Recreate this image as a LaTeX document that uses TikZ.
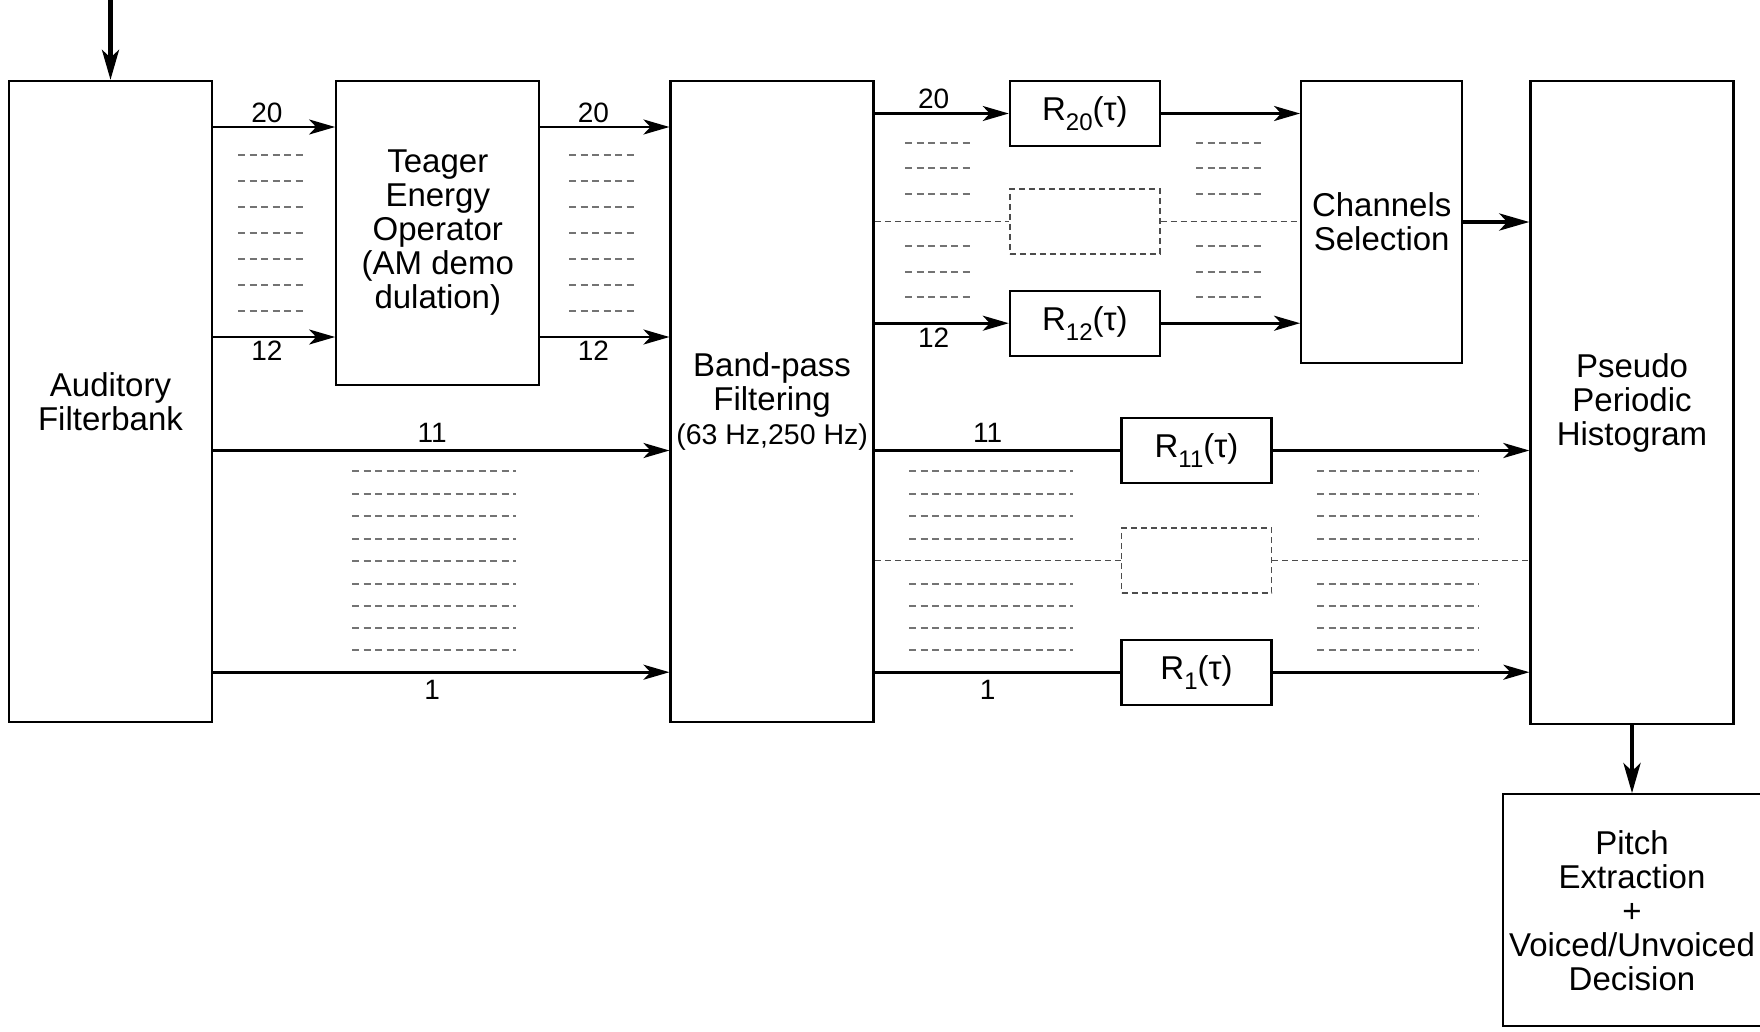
\documentclass[tikz,border=0pt]{standalone}
\usepackage{fontspec}
\setmainfont{Liberation Sans}
\usetikzlibrary{positioning,arrows.meta}

\newcommand\fmain{\fontsize{33}{34}\selectfont}
\newcommand\fnum{\fontsize{28}{30}\selectfont}
\newcommand\fsub{\fontsize{28.5}{33}\selectfont}
\newcommand\chsub[1]{\raisebox{-10pt}{\fontsize{24}{24}\selectfont#1}}
\newcommand\Rtau[1]{R\chsub{#1}(τ)}

\begin{document}
\begin{tikzpicture}[x=1pt, y=-1pt,
  font=\fmain,
  blk/.style={draw, line width=2.3pt, inner sep=0pt, align=center},
  rblk/.style={blk, minimum width=150pt, minimum height=65pt},
  ghost/.style={draw=black!70, line width=1.4pt, dash pattern=on 6pt off 4pt},
  sig/.style={line width=2.8pt, -{Stealth[length=26pt,width=15pt,inset=7pt]}},
  wire/.style={line width=2.8pt},
  bus/.style={line width=4.5pt, -{Stealth[length=30pt,width=17pt,inset=8pt]}},
  dots/.style={draw=black!55, line width=1.4pt, dash pattern=on 7pt off 4.5pt},
  gdash/.style={draw=black!70, line width=1.4pt, dash pattern=on 6pt off 4pt},
  num/.style={font=\fnum, inner sep=3pt},
  farnum/.style={font=\fnum, inner sep=7pt}
]
\useasboundingbox (0,0) rectangle (1760,1031);

% main blocks
\node[blk, minimum width=203pt, minimum height=641pt] (af) at (110.5,401.5) {Auditory\\Filterbank};
\node[blk, minimum width=203pt, minimum height=304pt, below right=0pt and 122pt of af.north east] (teo)
  {Teager\\Energy\\Operator\\(AM demo\\dulation)};
\node[blk, minimum width=203pt, minimum height=641pt, below right=0pt and 129pt of teo.north east] (bpf)
  {Band-pass\\Filtering\\{\fsub (63 Hz,250 Hz)}};

% autocorrelation blocks, channels 20..12
\node[rblk, below right=0pt and 134pt of bpf.north east] (r20) {\Rtau{20}};
\node[rblk, ghost, below=41pt of r20] (gA) {};
\node[rblk, below=35pt of gA] (r12) {\Rtau{12}};
\node[blk, minimum width=161pt, minimum height=282pt, below right=0pt and 139pt of r20.north east] (chs)
  {Channels\\Selection};
\node[blk, minimum width=203pt, minimum height=643pt, below right=0pt and 66pt of chs.north east] (pph)
  {Pseudo\\Periodic\\Histogram};

% channels 11..1
\node[rblk] (r11) at (1196.5,450.5) {\Rtau{11}};
\node[rblk, ghost, below=43pt of r11] (gB) {};
\node[rblk, below=45pt of gB] (r1) {\Rtau{1}};
\node[blk, minimum width=258pt, minimum height=232pt, below=68pt of pph] (pitch)
  {Pitch\\Extraction\\+\\Voiced/Unvoiced\\Decision};

% input
\coordinate[above=81pt of af.north] (src);
\draw[bus] (src) -- (af.north);

% filterbank outputs
\coordinate (c20) at (0,127);
\coordinate (c12) at (0,337);
\draw[sig] (af.east |- c20) -- node[num, above, pos=0.44]{20} (teo.west |- c20);
\draw[sig] (af.east |- c12) -- node[num, below, pos=0.44]{12} (teo.west |- c12);
\draw[sig] (teo.east |- c20) -- node[num, above, pos=0.41]{20} (bpf.west |- c20);
\draw[sig] (teo.east |- c12) -- node[num, below, pos=0.41]{12} (bpf.west |- c12);
\draw[sig] (af.east |- r11) -- node[farnum, above, pos=0.48]{11} (bpf.west |- r11);
\draw[sig] (af.east |- r1) -- node[farnum, below, pos=0.48]{1} (bpf.west |- r1);

% band-pass outputs
\draw[sig] (bpf.east |- r20) -- node[num, above, pos=0.44]{20} (r20.west);
\draw[sig] (bpf.east |- r12) -- node[num, below, pos=0.44]{12} (r12.west);
\draw[sig] (r20.east) -- (chs.west |- r20.east);
\draw[sig] (r12.east) -- (chs.west |- r12.east);
\draw[gdash] (bpf.east |- gA) -- (gA.west);
\draw[gdash] (gA.east) -- (chs.west |- gA.east);
\draw[bus] (chs.east) -- (pph.west |- chs.east);

\draw[wire] (bpf.east |- r11) -- node[farnum, above, pos=0.46]{11} (r11.west);
\draw[wire] (bpf.east |- r1) -- node[farnum, below, pos=0.46]{1} (r1.west);
\draw[sig] (r11.east) -- (pph.west |- r11.east);
\draw[sig] (r1.east) -- (pph.west |- r1.east);
\draw[gdash] (bpf.east |- gB) -- (gB.west);
\draw[gdash] (gB.east) -- (pph.west |- gB.east);

\draw[bus] (pph.south) -- (pitch.north);

% omitted channels
\foreach \y in {155,181,207,233,259,285,311} {
  \draw[dots] (238,\y) -- +(65,0);
  \draw[dots] (569,\y) -- +(65,0);
}
\foreach \y in {143,168,194,246,272,297} {
  \draw[dots] (905,\y) -- +(68,0);
  \draw[dots] (1196,\y) -- +(67,0);
}
\foreach \y in {471,494,516,539,561,584,606,628,650}
  \draw[dots] (352,\y) -- +(164,0);
\foreach \y in {471,494,516,539,584,606,628,650} {
  \draw[dots] (909,\y) -- +(164,0);
  \draw[dots] (1317,\y) -- +(162,0);
}
\end{tikzpicture}
\end{document}
